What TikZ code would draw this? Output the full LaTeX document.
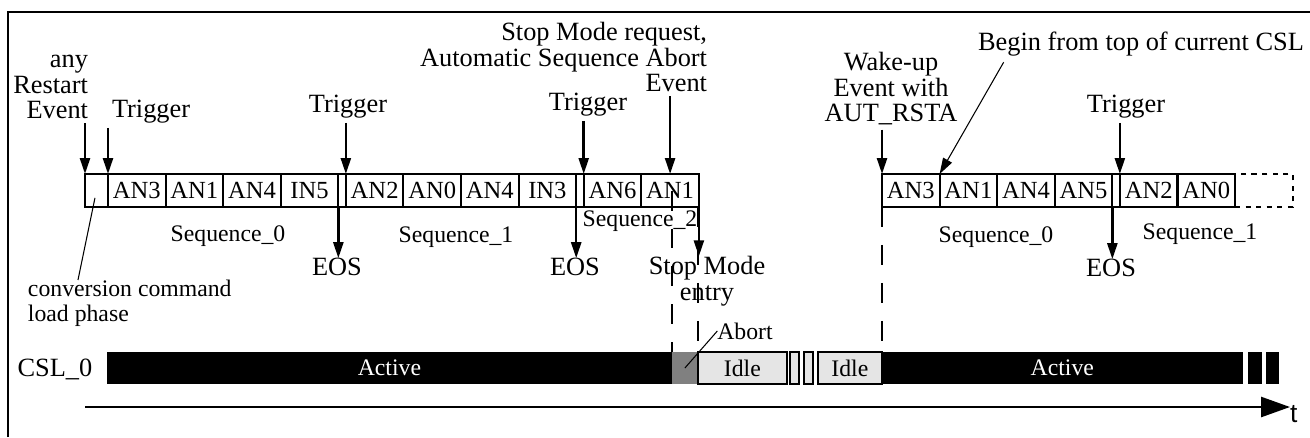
\documentclass[tikz,border=0pt]{standalone}
\usepackage{fontspec}
\setmainfont{Liberation Serif}
\setsansfont{Liberation Sans}
\usetikzlibrary{arrows.meta,positioning}
\newcommand{\lblfont}{\fontsize{15}{14.5}\selectfont}
\newcommand{\cellfont}{\fontsize{14}{14}\selectfont}
\newcommand{\smfont}{\fontsize{13.5}{14}\selectfont}

\begin{document}
\begin{tikzpicture}[x=0.02cm, y=-0.02cm, >={Triangle[length=3.2mm,width=2mm]},
  every node/.style={inner sep=0pt, outer sep=0pt},
  lbl/.style={font=\lblfont},
  seqlbl/.style={font=\smfont},
  cell/.style={draw, line width=1.2pt, minimum width=1.152cm, minimum height=0.66cm, font=\cellfont},
  gapcell/.style={cell, minimum width=0.15cm},
  bar/.style={minimum height=0.64cm, fill=black, text=white, font=\smfont},
  idle/.style={draw, line width=1pt, minimum height=0.64cm, fill=gray!20, font=\smfont},
  ev/.style={->, line width=1.4pt},
  fromlbl/.style={ev, shorten <=2.5pt},
  guide/.style={line width=1.2pt, dash pattern=on 0.4cm off 0.36cm},
  leader/.style={line width=0.6pt}]
\useasboundingbox (0,0) rectangle (1310,437);
\draw[line width=1.4pt] (8,437) -- (8,12) -- (1310,12);

% first conversion row
\node[cell, minimum width=0.46cm, anchor=west] (ld) at (85,190.5) {};
\node[cell, right=0pt of ld] (an3a) {AN3};
\node[cell, right=0pt of an3a] (an1a) {AN1};
\node[cell, right=0pt of an1a] (an4a) {AN4};
\node[cell, right=0pt of an4a] (in5) {IN5};
\node[gapcell, right=0pt of in5] (gap1) {};
\node[cell, right=0pt of gap1] (an2a) {AN2};
\node[cell, right=0pt of an2a] (an0a) {AN0};
\node[cell, right=0pt of an0a] (an4c) {AN4};
\node[cell, right=0pt of an4c] (in3) {IN3};
\node[gapcell, right=0pt of in3] (gap2) {};
\node[cell, right=0pt of gap2] (an6) {AN6};
\node[cell, right=0pt of an6] (an1c) {AN1};

% row after wake-up
\node[cell, anchor=west] (an3b) at (882,190.5) {AN3};
\node[cell, right=0pt of an3b] (an1b) {AN1};
\node[cell, right=0pt of an1b] (an4b) {AN4};
\node[cell, right=0pt of an4b] (an5) {AN5};
\node[gapcell, right=0pt of an5] (gap3) {};
\node[cell, right=0pt of gap3] (an2b) {AN2};
\node[cell, right=0pt of an2b] (an0b) {AN0};
\node[cell, dashed, right=0pt of an0b] (more) {};

% events above
\node[lbl, align=right, anchor=east] (restart) at (88,87) {any\\Restart\\Event};
\node[lbl, anchor=west] (trig1) at (112,112) {Trigger};
\node[lbl] (trig2) at (348,107) {Trigger};
\node[lbl] (trig3) at (588,105) {Trigger};
\node[lbl, align=right, anchor=east] (stopreq) at (707,57) {Stop Mode request,\\Automatic Sequence Abort\\Event};
\node[lbl, align=center] (wake) at (891,89) {Wake-up\\Event with\\AUT\_RSTA};
\node[lbl] (begin) at (1141,44) {Begin from top of current CSL};
\node[lbl] (trig4) at (1126,107) {Trigger};
\draw[fromlbl] (ld.north west |- restart.south) -- (ld.north west);
\draw[fromlbl] (ld.north east |- trig1.south) -- (ld.north east);
\draw[fromlbl] (gap1.north east |- trig2.south) -- (gap1.north east);
\draw[fromlbl] (gap2.north east |- trig3.south) -- (gap2.north east);
\draw[fromlbl] (an1c.north |- stopreq.south) -- (an1c.north);
\draw[fromlbl] (an3b.north west |- wake.south) -- (an3b.north west);
\draw[fromlbl] (gap3.north east |- trig4.south) -- (gap3.north east);
\draw[->, leader, shorten <=4pt] ([xshift=0.58cm]begin.south west) -- (an3b.north east);

% events below
\node[lbl] (eos1) at (337,267) {EOS};
\node[lbl] (eos2) at (575,267) {EOS};
\node[lbl] (eos3) at (1111,268) {EOS};
\node[lbl, align=center] (stopent) at (707,281) {Stop Mode\\entry};
\draw[ev] (gap1.south west) -- (gap1.south west |- eos1.north);
\draw[ev] (gap2.south west) -- (gap2.south west |- eos2.north);
\draw[ev] (gap3.south west) -- (gap3.south west |- eos3.north);
\draw[ev] (an1c.south east) -- (an1c.south east |- stopent.north);

\node[seqlbl] (seq0a) at (228,236) {Sequence\_0};
\node[seqlbl] (seq1a) at (456,237) {Sequence\_1};
\node[seqlbl] (seq2a) at (640,221) {Sequence\_2};
\node[seqlbl] (seq0b) at (996,237) {Sequence\_0};
\node[seqlbl] (seq1b) at (1200,234) {Sequence\_1};

\node[seqlbl, align=left, anchor=west] (conv) at (28,303) {conversion command\\load phase};
\draw[leader, shorten <=0.15cm] (ld.center) -- ([xshift=1cm]conv.north west);

% CSL_0 state bar
\node[lbl] (csl) at (55,369) {CSL\_0};
\node[bar, minimum width=11.3cm, anchor=west] (act1) at (107,368) {Active};
\node[minimum height=0.64cm, minimum width=0.52cm, fill=gray, right=0pt of act1] (abortbox) {};
\node[idle, minimum width=1.78cm, right=0pt of abortbox] (idle1) {Idle};
\node[idle, minimum width=0.18cm, right=0.06cm of idle1] (sl1) {};
\node[idle, minimum width=0.18cm, right=0.1cm of sl1] (sl2) {};
\node[idle, minimum width=1.28cm, right=0.1cm of sl2] (idle2) {Idle};
\node[bar, minimum width=7.22cm, right=0pt of idle2] (act2) {Active};
\node[bar, minimum width=0.28cm, right=0.1cm of act2] (blk1) {};
\node[bar, minimum width=0.26cm, right=0.08cm of blk1] (blk2) {};
\node[seqlbl] (ablbl) at (745,331) {Abort};
\draw[leader] (ablbl.west) -- (abortbox.center);

\draw[guide] (abortbox.north west |- an1c.center) -- (abortbox.north west);
\draw[guide] (idle1.north west |- an1c.south) -- (idle1.north west);
\draw[guide] (an3b.south west) -- (an3b.south west |- idle2.north);

% time axis
\node[font=\sffamily\fontsize{15}{15}\selectfont, anchor=north west] (t) at (1290,405) {t};
\coordinate (t0) at (85,407);
\draw[line width=1.5pt, -{Triangle[length=5.8mm,width=4mm]}] (t0) -- (t0 -| t.west);
\end{tikzpicture}
\end{document}
